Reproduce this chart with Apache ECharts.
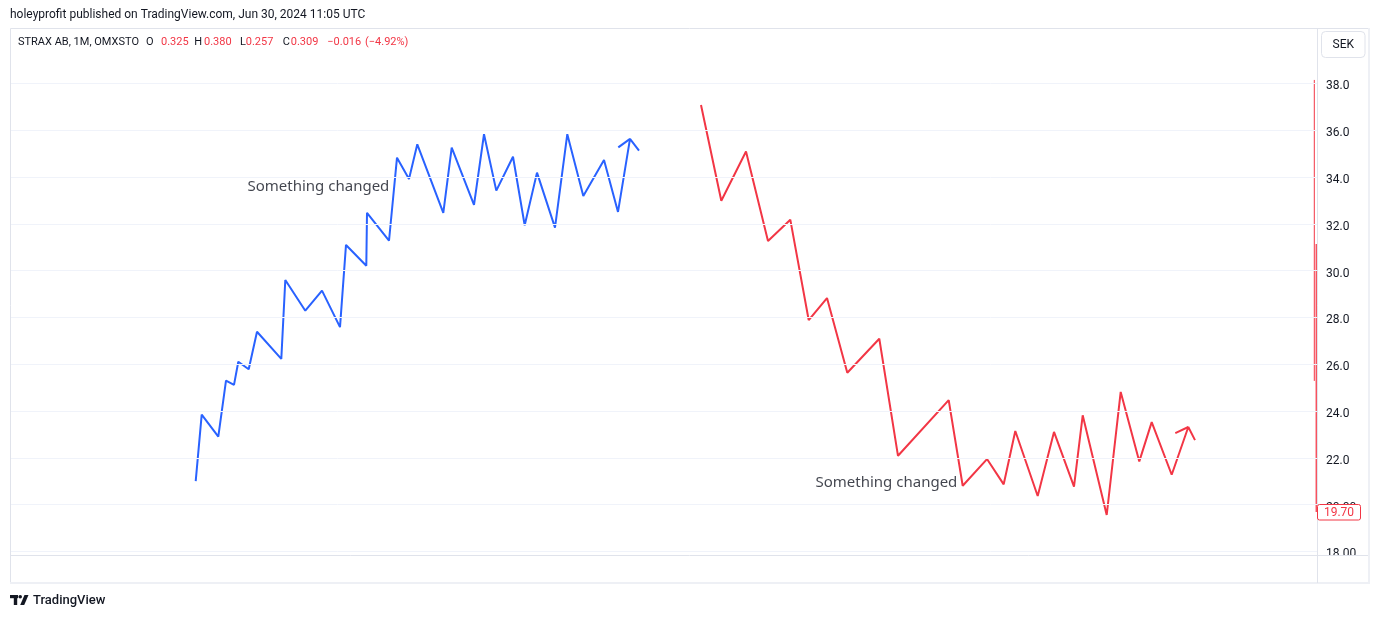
<!DOCTYPE html>
<html>
<head>
<meta charset="utf-8">
<script src="https://cdn.jsdelivr.net/npm/echarts@6/dist/echarts.min.js"></script>
<style>
html,body{margin:0;padding:0;background:#fff;}
#c{width:1379px;height:618px;}
</style>
</head>
<body>
<div id="c"></div>
<script>
// ---- data ----
var yTicks = [18, 20, 22, 24, 26, 28, 30, 32, 34, 36, 38];
var blueX = [184.7, 190.7, 207.3, 215, 223, 227.3, 237.7, 246, 270.3, 274.3, 294.3, 311, 329, 335, 355.3, 356, 378, 386, 398, 406.3, 432.3, 440.7, 463, 473, 485.3, 502, 513.7, 526, 544, 556.3, 572.3, 593, 607, 619, 628];
var blueY = [21.01, 23.85, 22.91, 25.30, 25.12, 26.11, 25.79, 27.39, 26.23, 29.60, 28.29, 29.15, 27.59, 31.10, 30.21, 32.47, 31.28, 34.83, 33.92, 35.40, 32.47, 35.26, 32.81, 35.83, 33.42, 34.87, 31.94, 34.19, 31.84, 35.83, 33.19, 34.73, 32.51, 35.63, 35.13];
var blueArrowX = [607.3, 619];
var blueArrowY = [35.27, 35.63];
var redX = [690, 710.3, 735, 757, 779.3, 797.7, 816, 836.3, 868.3, 887, 937.7, 951.7, 976, 992.7, 1004.3, 1026.7, 1043, 1063, 1071.7, 1095.7, 1109.7, 1128.3, 1140.7, 1160.7, 1177.3, 1184];
var redY = [37.08, 32.99, 35.09, 31.27, 32.18, 27.89, 28.83, 25.64, 27.09, 22.09, 24.47, 20.81, 21.95, 20.87, 23.15, 20.37, 23.11, 20.77, 23.82, 19.56, 24.82, 21.85, 23.53, 21.28, 23.32, 22.76];
var redArrowX = [1164.3, 1177.3];
var redArrowY = [23.06, 23.32];
var wick1X = [1303.3, 1303.3];
var wick1Y = [38.15, 25.29];
var wick2X = [1305.3, 1305.3];
var wick2Y = [31.14, 19.69];
var noteX = [237, 805];
var noteY = [33.58, 20.93];
var noteText = ['Something changed', 'Something changed'];
var lastPrice = 19.70;

function pairs(xs, ys) { return xs.map(function (x, i) { return [x, ys[i]]; }); }

var BLUE = '#2962ff', RED = '#f23645', TXT = '#131722', GRIDC = '#f0f3fa', BORDER = '#e0e3eb';
var FONT = 'Roboto';

function lineSeries(xs, ys, color, w) {
  return {
    type: 'line', data: pairs(xs, ys), symbol: 'none', silent: true, animation: false,
    lineStyle: { color: color, width: w }, z: 3
  };
}

var chart = echarts.init(document.getElementById('c'), null, { renderer: 'canvas' });

var hdr = [
  ['STRAX AB, 1M, OMXSTO', 18, TXT],
  ['O', 146, TXT], ['0.325', 161, RED],
  ['H', 194.3, TXT], ['0.380', 204, RED],
  ['L', 240, TXT], ['0.257', 245.7, RED],
  ['C', 282.7, TXT], ['0.309', 290.7, RED],
  ['\u22120.016', 327.3, RED], ['(\u22124.92%)', 365, RED]
];

var graphics = [
  // bottom panel cover
  { type: 'rect', z: 100, shape: { x: 11, y: 555, width: 1357, height: 28 }, style: { fill: '#fff' }, silent: true },
  { type: 'rect', z: 100, shape: { x: 0, y: 583, width: 1379, height: 35 }, style: { fill: '#fff' }, silent: true },
  // frame
  { type: 'rect', z: 101, shape: { x: 10.5, y: 28.5, width: 1358, height: 554 }, style: { fill: 'none', stroke: BORDER, lineWidth: 1 }, silent: true },
  { type: 'line', z: 101, shape: { x1: 1369, y1: 28, x2: 1369, y2: 583 }, style: { stroke: '#eef0f5', lineWidth: 2 }, silent: true },
  { type: 'line', z: 101, shape: { x1: 10, y1: 583, x2: 1370, y2: 583 }, style: { stroke: '#eef0f5', lineWidth: 2 }, silent: true },
  { type: 'line', z: 101, shape: { x1: 11, y1: 555.5, x2: 1368, y2: 555.5 }, style: { stroke: BORDER, lineWidth: 1 }, silent: true },
  { type: 'line', z: 101, shape: { x1: 1317.5, y1: 28, x2: 1317.5, y2: 583 }, style: { stroke: BORDER, lineWidth: 1 }, silent: true },
  // SEK button
  { type: 'rect', z: 101, shape: { x: 1321.5, y: 31.5, width: 43.5, height: 26, r: 4 }, style: { fill: '#fff', stroke: BORDER, lineWidth: 1 }, silent: true },
  { type: 'text', z: 102, style: { text: 'SEK', x: 1343.3, y: 44.5, fill: TXT, font: '12px ' + FONT, textAlign: 'center', textVerticalAlign: 'middle' }, silent: true },
  // last price label
  { type: 'rect', z: 101, shape: { x: 1317.5, y: 504.5, width: 43, height: 15.5, r: 2 }, style: { fill: '#fff', stroke: RED, lineWidth: 1 }, silent: true },
  { type: 'text', z: 102, style: { text: lastPrice.toFixed(2), x: 1339, y: 512.5, fill: RED, font: '12px ' + FONT, textAlign: 'center', textVerticalAlign: 'middle' }, silent: true },
  // publish line
  { type: 'text', z: 102, style: { text: 'holeyprofit published on TradingView.com, Jun 30, 2024 11:05 UTC', x: 10, y: 14.5, fill: TXT, font: '12px ' + FONT, textVerticalAlign: 'middle' }, silent: true },
  // logo
  { type: 'rect', z: 102, shape: { x: 10, y: 595, width: 8, height: 3.2 }, style: { fill: TXT }, silent: true },
  { type: 'rect', z: 102, shape: { x: 13.8, y: 595, width: 3.4, height: 10 }, style: { fill: TXT }, silent: true },
  { type: 'circle', z: 102, shape: { cx: 20.2, cy: 596.7, r: 1.8 }, style: { fill: TXT }, silent: true },
  { type: 'polygon', z: 102, shape: { points: [[24.5, 595], [28.5, 595], [24.2, 605], [20.2, 605]] }, style: { fill: TXT }, silent: true },
  { type: 'text', z: 102, style: { text: 'TradingView', x: 33, y: 600.5, fill: TXT, font: '500 13px ' + FONT, textVerticalAlign: 'middle' }, silent: true }
];
hdr.forEach(function (h) {
  graphics.push({ type: 'text', z: 102, style: { text: h[0], x: h[1], y: 42.5, fill: h[2], font: '11px ' + FONT, textVerticalAlign: 'middle' }, silent: true });
});

var option = {
  animation: false,
  backgroundColor: '#fff',
  grid: { left: 11, right: 62, top: 28, bottom: 19.7, containLabel: false },
  xAxis: {
    type: 'value', min: 0, max: 1306,
    axisLine: { show: false }, axisTick: { show: false }, axisLabel: { show: false }, splitLine: { show: false }
  },
  yAxis: {
    type: 'value', position: 'right', min: 16, max: 40.37, interval: 2,
    axisLine: { show: false }, axisTick: { show: false }, splitLine: { show: false },
    axisLabel: {
      margin: 9, color: TXT, fontSize: 12, fontFamily: FONT,
      rich: { a: { color: TXT, fontSize: 12, fontFamily: FONT, padding: [6, 0, 0, 0] } },
      formatter: function (v) {
        if (yTicks.indexOf(v) < 0) return '';
        return '{a|' + (v <= 20 ? v.toFixed(2) : v.toFixed(1)) + '}';
      }
    }
  },
  series: [
    {
      type: 'line', data: [], silent: true, symbol: 'none',
      markLine: {
        silent: true, symbol: 'none', animation: false, label: { show: false },
        lineStyle: { color: GRIDC, width: 1, type: 'solid' },
        data: yTicks.map(function (t) { return { yAxis: t }; })
      }, z: 1
    },
    lineSeries(blueX, blueY, BLUE, 2),
    lineSeries(blueArrowX, blueArrowY, BLUE, 2),
    lineSeries(redX, redY, RED, 2),
    lineSeries(redArrowX, redArrowY, RED, 2),
    lineSeries(wick1X, wick1Y, RED, 1),
    lineSeries(wick2X, wick2Y, '#f7525f', 1.5),
    {
      type: 'scatter', silent: true, symbolSize: 1, itemStyle: { color: 'rgba(0,0,0,0)' },
      data: noteX.map(function (x, i) { return [x, noteY[i], noteText[i]]; }),
      label: {
        show: true, position: [0, 0], align: 'left', verticalAlign: 'middle',
        formatter: function (p) { return p.value[2]; },
        color: TXT, fontSize: 15, fontFamily: 'Noto Sans'
      }, z: 4
    }
  ],
  graphic: graphics
};
chart.setOption(option);
</script>
</body>
</html>
